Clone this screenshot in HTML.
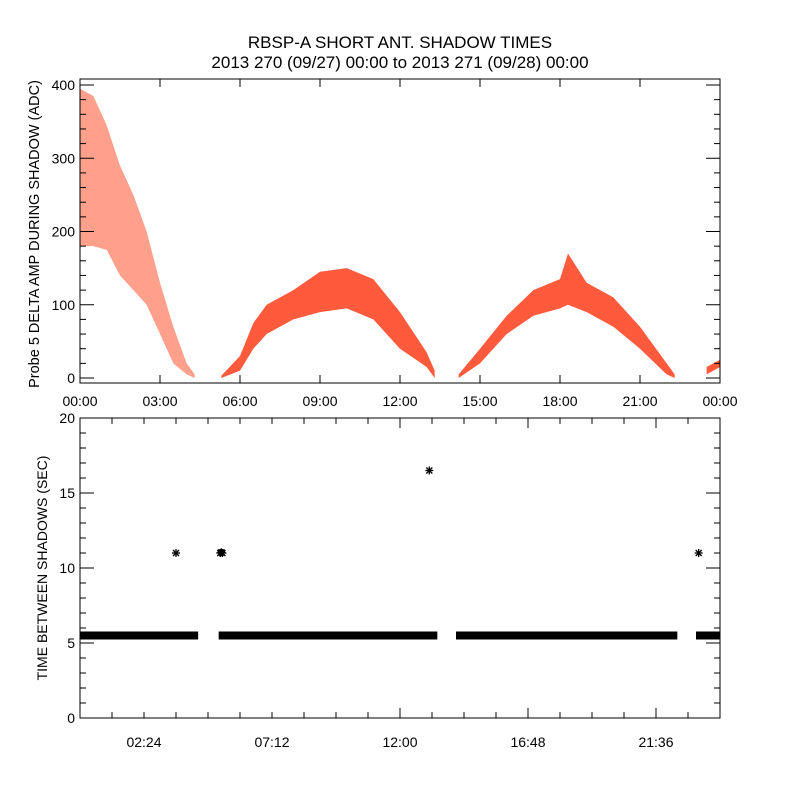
<!DOCTYPE html>
<html><head><meta charset="utf-8"><style>
body{margin:0;background:#fff}
svg{display:block;font-family:"Liberation Sans",sans-serif}
</style></head><body>
<svg id="c" width="800" height="800" viewBox="0 0 800 800">
<rect width="800" height="800" fill="#fff"/>
<text x="400" y="48" text-anchor="middle" font-size="17">RBSP-A SHORT ANT. SHADOW TIMES</text>
<text x="400" y="68" text-anchor="middle" font-size="17">2013 270 (09/27) 00:00 to 2013 271 (09/28) 00:00</text>
<g id="topPanel"></g>
<g id="botPanel"></g>
</svg>
<script>
// Top panel: envelope of probe 5 delta amp (hours, low, high) per shadow arc
const arc1Hours=[0,0.5,1,1.5,2,2.5,3,3.5,4,4.3];
const arc1Low=[180,180,175,140,120,100,60,20,5,0];
const arc1High=[395,385,345,290,250,200,130,70,20,5];
const arc2Hours=[5.3,6,6.5,7,8,9,10,11,12,13,13.3];
const arc2Low=[0,10,40,60,80,90,95,80,40,15,0];
const arc2High=[3,30,75,100,120,145,150,135,90,35,10];
const arc3Hours=[14.2,15,16,17,18,18.3,19,20,21,22,22.3];
const arc3Low=[0,20,60,85,95,100,90,70,40,5,0];
const arc3High=[5,40,85,120,135,170,130,110,70,20,5];
const arc4Hours=[23.5,24];
const arc4Low=[5,15];
const arc4High=[15,25];
// Bottom panel: continuous ~5.5s band segments (start hour, end hour) and outliers
const bandStart=[0,5.2,14.1,23.1];
const bandEnd=[4.43,13.4,22.4,24];
const bandValue=5.5;
const outlierHours=[3.6,5.26,5.3,5.34,13.1,23.2];
const outlierValues=[11,11,11.05,11,16.5,11];
const topXTicks=["00:00","03:00","06:00","09:00","12:00","15:00","18:00","21:00","00:00"];
const topYTicks=[0,100,200,300,400];
const botXTicks=["02:24","07:12","12:00","16:48","21:36"];
const botYTicks=[0,5,10,15,20];

const NS="http://www.w3.org/2000/svg";
function mk(p,t,a){const e=document.createElementNS(NS,t);for(const k in a)e.setAttribute(k,a[k]);p.appendChild(e);return e;}
const L=80,R=720;
const xs=h=>L+h*(R-L)/24;
const ty=v=>378-v*0.7325;
const by=v=>718-v*15;
const topG=document.getElementById('topPanel'),botG=document.getElementById('botPanel');

[[arc1Hours,arc1Low,arc1High],[arc2Hours,arc2Low,arc2High],[arc3Hours,arc3Low,arc3High],[arc4Hours,arc4Low,arc4High]].forEach((a,i)=>{
  const pts=[];
  a[0].forEach((h,j)=>pts.push(xs(h)+","+ty(a[2][j])));
  for(let j=a[0].length-1;j>=0;j--)pts.push(xs(a[0][j])+","+ty(a[1][j]));
  const p=mk(topG,'polygon',{points:pts.join(' '),fill:i==0?'#ffa08c':'#ff5a3c'});
  
  
});
const tf=mk(topG,'rect',{x:L,y:79,width:R-L,height:304,fill:'none',stroke:'#000','stroke-width':1});


topXTicks.forEach((t,i)=>{
  const x=xs(i*3);
  mk(topG,'line',{x1:x,x2:x,y1:383,y2:375,stroke:'#000'});
  mk(topG,'line',{x1:x,x2:x,y1:79,y2:87,stroke:'#000'});
  const tx=mk(topG,'text',{x:x,y:406,'text-anchor':'middle','font-size':14});tx.textContent=t;
  
  
});
for(let v=0;v<=400;v+=20){
  const y=ty(v),len=v%100==0?14:6;
  mk(topG,'line',{x1:L,x2:L+len,y1:y,y2:y,stroke:'#000'});
  mk(topG,'line',{x1:R,x2:R-len,y1:y,y2:y,stroke:'#000'});
}
topYTicks.forEach(v=>{
  const tx=mk(topG,'text',{x:75,y:ty(v)+5,'text-anchor':'end','font-size':14});tx.textContent=v;
  
  
});
const tyt=mk(topG,'text',{transform:'translate(39,234) rotate(-90)','text-anchor':'middle','font-size':14.5});
tyt.textContent='Probe 5 DELTA AMP DURING SHADOW (ADC)';



bandStart.forEach((s,i)=>{
  const r=mk(botG,'rect',{x:xs(s),y:by(bandValue)-4,width:xs(bandEnd[i])-xs(s),height:8,fill:'#000'});
  
  
});
outlierHours.forEach((h,i)=>{
  const x=xs(h),y=by(outlierValues[i]);
  const g=mk(botG,'g',{stroke:'#000','stroke-width':1.3});
  
  
  mk(g,'line',{x1:x-4,x2:x+4,y1:y,y2:y});
  mk(g,'line',{x1:x,x2:x,y1:y-4,y2:y+4});
  mk(g,'line',{x1:x-3,x2:x+3,y1:y-3,y2:y+3});
  mk(g,'line',{x1:x-3,x2:x+3,y1:y+3,y2:y-3});
});
const bf=mk(botG,'rect',{x:L,y:418,width:R-L,height:300,fill:'none',stroke:'#000'});


for(let h=1.2;h<24;h+=1.2){
  const x=xs(h),len=Math.abs(h/4.8-Math.round(h/4.8)-0.5)<0.01?10:6;
  mk(botG,'line',{x1:x,x2:x,y1:718,y2:718-len,stroke:'#000'});
  mk(botG,'line',{x1:x,x2:x,y1:418,y2:418+len,stroke:'#000'});
}
botXTicks.forEach((t,i)=>{
  const tx=mk(botG,'text',{x:xs(2.4+i*4.8),y:747,'text-anchor':'middle','font-size':14});tx.textContent=t;
  
  
});
for(let v=0;v<=20;v++){
  const y=by(v),len=v%5==0?14:6;
  mk(botG,'line',{x1:L,x2:L+len,y1:y,y2:y,stroke:'#000'});
  mk(botG,'line',{x1:R,x2:R-len,y1:y,y2:y,stroke:'#000'});
}
botYTicks.forEach(v=>{
  const tx=mk(botG,'text',{x:75,y:by(v)+5,'text-anchor':'end','font-size':14});tx.textContent=v;
  
  
});
const byt=mk(botG,'text',{transform:'translate(47,568) rotate(-90)','text-anchor':'middle','font-size':14});
byt.textContent='TIME BETWEEN SHADOWS (SEC)';


</script>
</body></html>
